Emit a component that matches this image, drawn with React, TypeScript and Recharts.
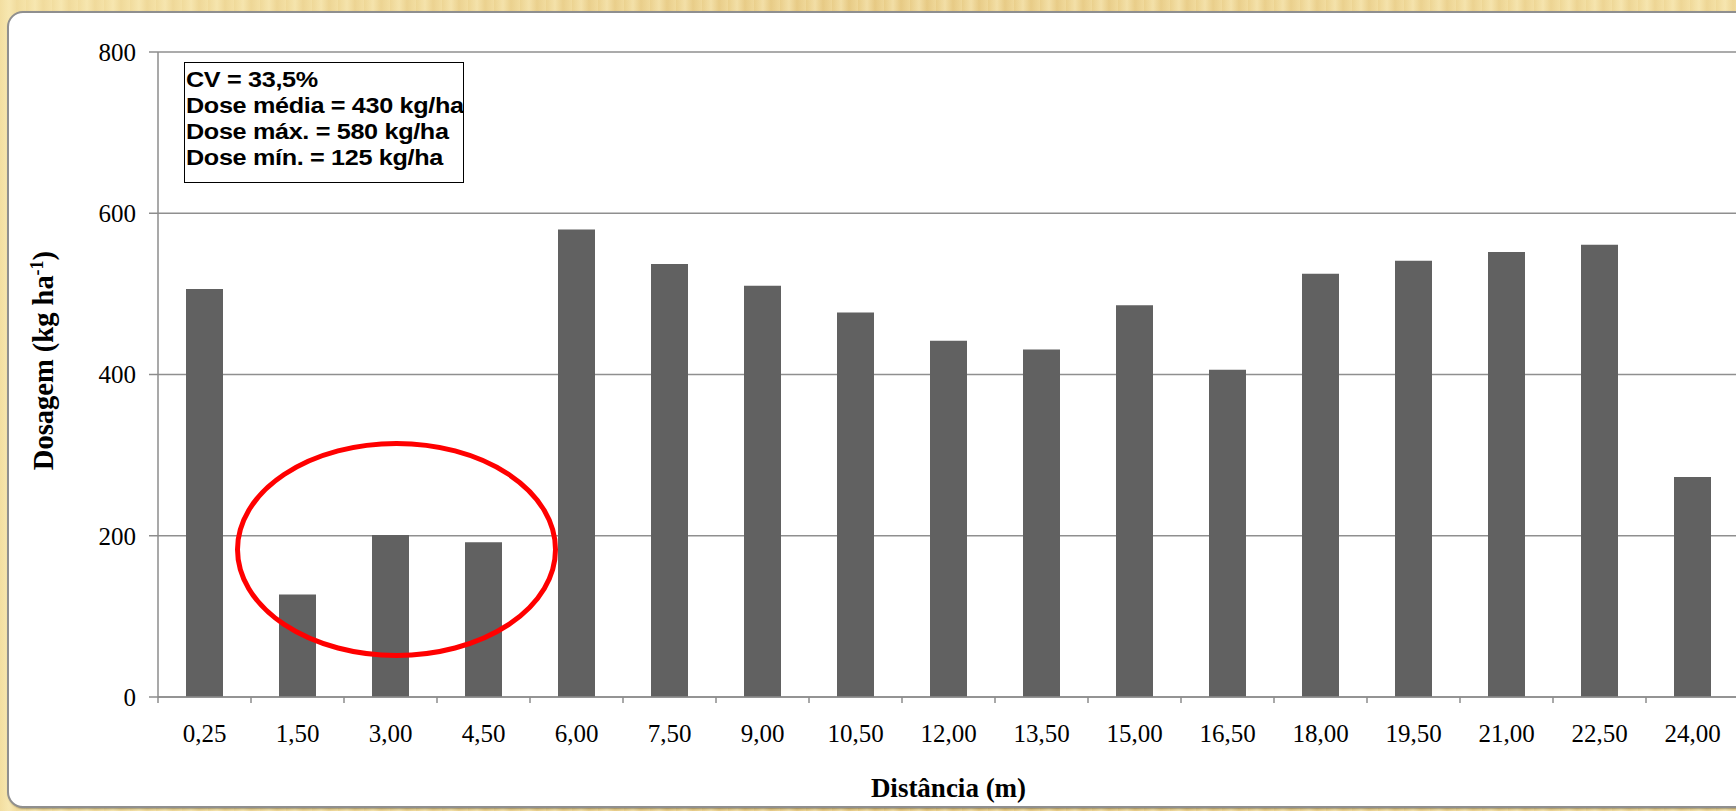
import { BarChart, Bar, XAxis, YAxis, CartesianGrid, ReferenceDot } from 'recharts'

const distances = ['0,25', '1,50', '3,00', '4,50', '6,00', '7,50', '9,00', '10,50', '12,00', '13,50', '15,00', '16,50', '18,00', '19,50', '21,00', '22,50', '24,00']
const doses = [506, 127, 201, 192, 580, 537, 510, 477, 442, 431, 486, 406, 525, 541, 552, 561, 273]
const yTicks = [0, 200, 400, 600, 800]
const statsLines = ['CV = 33,5%', 'Dose média = 430 kg/ha', 'Dose máx. = 580 kg/ha', 'Dose mín. = 125 kg/ha']
// centre of the red ring drawn around the low doses
const highlight = { x: '3,00', y: 183 }

const data = distances.map((d, i) => ({ dist: d, dose: doses[i] }))

const CHART_W = 1740
const CHART_H = 811
const MARGIN = { top: 52, right: 1, bottom: 0, left: 98 }
const Y_W = 60
const X_H = 114
const PLOT_LEFT = MARGIN.left + Y_W
const PLOT_W = CHART_W - PLOT_LEFT - MARGIN.right
const PLOT_H = CHART_H - MARGIN.top - X_H
const STEP = PLOT_W / distances.length
const AXIS = '#8c8c8c'

const XTick = ({ x, y, payload }: any) => (
  <g>
    <line x1={x - STEP / 2} y1={y} x2={x - STEP / 2} y2={y + 6} stroke={AXIS} strokeWidth={1.5} />
    <text x={x} y={y + 45} textAnchor="middle" fontFamily="Liberation Serif" fontSize={25} fill="#000">
      {payload.value}
    </text>
  </g>
)

const XTitle = (props: any) => {
  const vb = props.viewBox || { x: PLOT_LEFT, y: MARGIN.top + PLOT_H, width: PLOT_W, height: X_H }
  return (
    <text x={vb.x + vb.width / 2} y={vb.y + 100} textAnchor="middle" fontFamily="Liberation Serif" fontWeight="bold" fontSize={27} fill="#000">
      Distância (m)
    </text>
  )
}

const YTitle = (props: any) => {
  const vb = props.viewBox || { x: MARGIN.left, y: MARGIN.top, width: Y_W, height: PLOT_H }
  const cx = vb.x - 45
  const cy = vb.y + vb.height / 2 - 14
  return (
    <text transform={`rotate(-90, ${cx}, ${cy})`} x={cx} y={cy} textAnchor="middle" fontFamily="Liberation Serif" fontWeight="bold" fontSize={28.5} fill="#000">
      Dosagem (kg ha<tspan dy={-10} fontSize={18}>-1</tspan><tspan dy={10}>)</tspan>
    </text>
  )
}

const Ring = (props: any) => (
  <ellipse cx={props.cx + 6} cy={props.cy} rx={159} ry={106} fill="none" stroke="#ff0000" strokeWidth={5} />
)

export default function App() {
  return (
    <div
      style={{
        position: 'fixed',
        left: 0,
        top: 0,
        width: 1736,
        height: 811,
        overflow: 'hidden',
        background:
          'linear-gradient(90deg, rgba(250,236,180,0.55), rgba(232,205,135,0.2) 50%, rgba(250,236,180,0.4)), repeating-linear-gradient(90deg, #e9cd88 0px, #f4e2ad 9px, #e6c882 17px, #f0d99c 26px)',
      }}
    >
      <div
        style={{
          position: 'absolute',
          left: 7,
          top: 11,
          width: 1745,
          height: 797,
          boxSizing: 'border-box',
          background: '#fff',
          border: '2px solid #8f8f8f',
          borderRadius: 16,
          boxShadow: '1px 1px 2px rgba(0,0,0,0.35)',
        }}
      />
      <div style={{ position: 'absolute', left: 0, top: 0 }}>
        <BarChart width={CHART_W} height={CHART_H} data={data} margin={MARGIN}>
          <CartesianGrid vertical={false} stroke="#8f8f8f" strokeWidth={1.5} />
          <XAxis
            dataKey="dist"
            height={X_H}
            interval={0}
            tickSize={0}
            tickMargin={0}
            tickLine={false}
            stroke={AXIS}
            strokeWidth={1.5}
            tick={<XTick />}
            label={{ content: XTitle }}
          />
          <YAxis
            width={Y_W}
            domain={[0, 800]}
            ticks={yTicks}
            interval={0}
            tickSize={9}
            tickMargin={13}
            stroke={AXIS}
            strokeWidth={1.5}
            tick={{ fill: '#000', fontSize: 25, fontFamily: 'Liberation Serif' }}
            label={{ content: YTitle }}
          />
          <Bar dataKey="dose" fill="#616161" barSize={37} isAnimationActive={false} />
          <ReferenceDot x={highlight.x} y={highlight.y} r={0} ifOverflow="visible" shape={Ring} />
        </BarChart>
      </div>
      <div
        style={{
          position: 'absolute',
          left: 184,
          top: 62,
          width: 280,
          height: 121,
          boxSizing: 'border-box',
          border: '1.5px solid #000',
          background: '#fff',
          overflow: 'hidden',
          paddingTop: 4,
          paddingLeft: 1,
        }}
      >
        <div
          style={{
            fontFamily: 'Liberation Sans',
            fontWeight: 'bold',
            fontSize: 22.5,
            lineHeight: '26px',
            color: '#000',
            whiteSpace: 'nowrap',
            letterSpacing: -0.3,
            transform: 'scaleX(1.12)',
            transformOrigin: 'left top',
          }}
        >
          {statsLines.map((l) => (
            <div key={l}>{l}</div>
          ))}
        </div>
      </div>
    </div>
  )
}
